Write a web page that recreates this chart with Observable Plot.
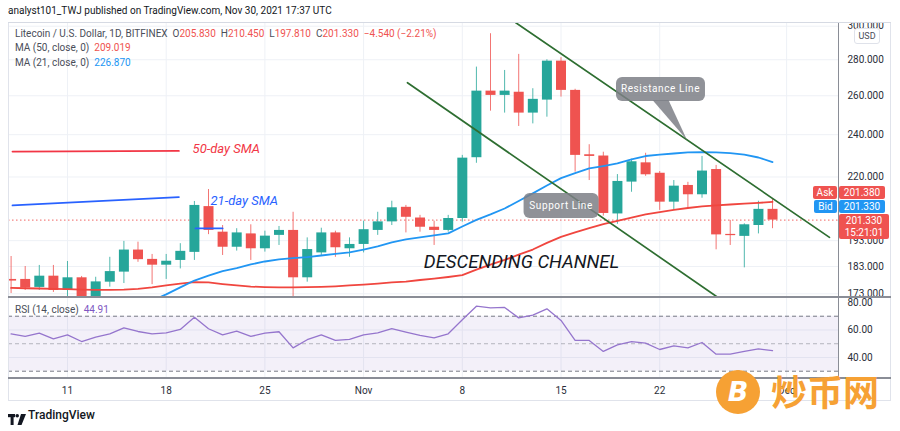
<!DOCTYPE html>
<html><head><meta charset="utf-8">
<script src="https://cdn.jsdelivr.net/npm/d3@7"></script>
<script src="https://cdn.jsdelivr.net/npm/@observablehq/plot@0.6"></script>
<style>
body{margin:0;background:#fff;}
#root{position:relative;width:900px;height:431px;overflow:hidden;font-family:Roboto,"Liberation Sans",sans-serif;color:#131722;background:#fff;}
.abs{position:absolute;white-space:nowrap;}
.lg{font-size:10px;color:#4a4e59;}
.red{color:#ef5350;}
.blue{color:#2196f3;}
.tag{position:absolute;color:#fff;font-size:10px;text-align:center;border-radius:2px;}
</style></head><body><div id="root"></div>
<script>
// ---------- data ----------
const startDate = "2021-10-07";
const opens  = [178.2,178.2,175.3,179.4,174.2,178.8,172.0,177.2,180.9,189.3,185.7,183.5,185.3,188.4,207.0,196.4,190.4,195.7,189.8,195.1,197.1,178.8,188.2,196.1,189.8,191.5,197.1,200.6,206.7,202.2,198.4,197.1,202.0,228.9,262.5,260.2,261.9,250.9,257.7,279.2,262.9,230.3,229.7,203.9,217.7,226.5,221.7,208.9,216.2,212.1,223.4,195.5,194.7,199.1,205.83];
const highs  = [186.8,183.0,183.4,183.4,184.9,179.3,179.0,186.5,192.7,192.4,187.6,187.6,191.8,209.2,214.4,199.1,197.8,199.4,196.8,198.7,204.6,194.1,198.0,196.8,194.1,200.9,204.6,209.3,207.5,203.3,200.9,203.3,230.0,275.8,295.4,273.9,283.1,263.8,280.0,281.2,263.5,235.1,231.5,221.1,228.2,231.0,222.5,218.4,217.6,229.5,225.3,201.2,199.8,209.3,210.45];
const lows   = [173.1,174.2,174.2,173.5,171.8,171.0,171.5,175.4,176.7,184.6,176.3,178.2,182.1,185.3,195.4,187.2,188.9,185.3,188.5,191.1,171.0,177.2,187.2,186.5,186.5,188.2,195.1,199.1,196.1,196.4,191.1,196.4,200.5,226.3,251.9,250.9,244.1,245.4,248.8,259.3,222.2,218.4,203.0,199.6,213.2,220.3,205.4,205.4,206.1,210.6,189.4,191.1,182.5,195.7,197.81];
const closes = [177.6,175.1,179.4,174.2,178.8,172.0,177.3,181.1,189.3,185.6,183.5,185.0,188.8,207.5,197.1,190.4,196.1,189.8,194.8,197.1,178.8,189.5,196.1,190.2,191.5,197.4,200.6,206.5,202.5,198.4,197.1,202.0,228.7,262.5,260.2,262.5,250.9,258.1,279.2,262.9,230.0,229.5,204.1,218.0,227.0,221.0,208.9,215.9,212.1,222.7,195.3,195.0,199.4,205.83,201.33];
const ma50 = [175.1,175.0,174.9,174.8,174.7,174.5,174.4,174.4,174.5,174.8,175.3,176.0,176.7,177.2,177.1,176.5,176.0,175.6,175.4,175.3,175.3,175.4,175.5,175.7,176.0,176.3,176.7,177.1,177.4,178.0,178.5,179.1,179.8,181.8,183.7,185.5,187.5,189.5,192.1,194.5,196.3,198.0,199.7,201.0,202.4,203.7,204.7,205.6,206.4,207.1,207.5,207.9,208.3,208.6,209.02];
const ma21 = [null,null,null,null,null,null,null,null,null,168.5,170.6,172.8,175.3,177.8,179.6,181.3,182.4,183.8,184.9,185.7,186.2,186.6,187.2,187.8,188.4,189.5,190.7,192.3,193.5,194.3,195.1,195.9,198.7,201.4,203.7,206.2,209.4,212.7,216.2,219.5,221.8,223.9,225.0,226.2,228.1,229.7,230.4,230.9,231.4,231.5,231.4,231.1,230.4,229.0,226.87];
const rsi = [57.2,55.3,57.7,53.6,56.5,51.6,54.8,57.2,61.6,58.9,57.2,57.9,60.4,69.3,60.9,56.5,59.1,55.3,57.7,58.7,47.0,52.9,56.5,52.4,53.1,56.5,57.9,60.9,58.4,56.0,54.3,57.2,67.4,77.3,76.1,76.4,68.8,70.8,75.4,66.9,52.4,52.4,44.4,49.2,51.6,50.4,45.8,48.5,47.0,50.9,42.4,42.4,44.4,46.3,44.91];

const tickDates  = ["2021-10-11","2021-10-18","2021-10-25","2021-11-01","2021-11-08","2021-11-15","2021-11-22","2021-12-01"];
const tickLabels = ["11","18","25","Nov","8","15","22","Dec"];
const priceTicks = [173,183,193,220,240,260,280,300];
const rsiTicks = [40,60,80];
const priceDomain = [171.7,302.3];
const rsiDomain = [24.7,82.9];
const dayDomain = [-0.184,58.75];

// drawings (day offset from startDate, price)
const resistanceLine = [{d:35.77,p:302.3},{d:58.04,p:194.3}];
const supportLine    = [{d:28.11,p:267.1},{d:50.13,p:171.7}];
const sma50Note = [{d:0.1,p:231.8},{d:11.9,p:232.1}];
const sma21Note = [{d:0.1,p:207.5},{d:11.9,p:211.1}];
const sma21Mark = [{d:13.08,p:197.9},{d:15.0,p:197.9}];
const notes = [
  {d:12.87,p:233.3,text:"50-day SMA",color:"#f23645",size:13,anchor:"start"},
  {d:14.14,p:209.6,text:"21-day SMA",color:"#2962ff",size:13,anchor:"start"},
  {d:36.2,p:184.5,text:"DESCENDING CHANNEL",color:"#131722",size:18.5,anchor:"middle"}
];
const callouts = [
  {text:"Resistance Line", d:46.09, p:263.4, w:89, h:24, tipD:47.97, tipP:237.2},
  {text:"Support Line", d:39.04, p:207.3, w:75, h:25}
];
const lastPrice = 201.33, askPrice = 201.38;

// ---------- build ----------
const base = Date.parse(startDate);
const day = i => new Date(base + i*864e5);
const candles = opens.map((o,i)=>({date:day(i),open:o,high:highs[i],low:lows[i],close:closes[i]}));
const ups = candles.filter(c=>c.close>=c.open), downs = candles.filter(c=>c.close<c.open);
const GREEN="#26a69a", RED="#ef5350", GRID="#eef1f6";
const ticks = tickDates.map(s=>new Date(s+"T00:00:00Z"));
const labelOf = d => tickLabels[ticks.findIndex(t=>+t===+d)];
const xDom = dayDomain.map(day);
const pt = a => a.map(o=>({date:day(o.d),p:o.p}));

const root = document.getElementById("root");
const style = {background:"transparent",fontSize:"10px",fontFamily:"Roboto, sans-serif",color:"#2a2e39"};

const pricePlot = Plot.plot({
  width:900,height:276,marginTop:0,marginBottom:1,marginLeft:8,marginRight:61,style,
  x:{type:"utc",domain:xDom,axis:null},
  y:{type:"log",domain:priceDomain,axis:"right",ticks:priceTicks,tickFormat:d3.format(".3f"),tickSize:0,tickPadding:8,label:null},
  marks:[
    Plot.ruleX(ticks,{stroke:GRID}),
    Plot.ruleY(priceTicks,{stroke:GRID}),
    Plot.ruleY([lastPrice],{stroke:RED,strokeDasharray:"1.5,2.5",strokeOpacity:0.9}),
    Plot.ruleX(ups,{x:"date",y1:"low",y2:"high",stroke:GREEN,strokeOpacity:0.8,clip:true}),
    Plot.ruleX(downs,{x:"date",y1:"low",y2:"high",stroke:RED,strokeOpacity:0.8,clip:true}),
    Plot.ruleX(ups,{x:"date",y1:"open",y2:"close",stroke:GREEN,strokeWidth:10,clip:true}),
    Plot.ruleX(downs,{x:"date",y1:"open",y2:"close",stroke:RED,strokeWidth:10,clip:true}),
    Plot.line(ma50.map((v,i)=>({date:day(i),v})),{x:"date",y:"v",stroke:"#f0463f",strokeWidth:1.8,clip:true}),
    Plot.line(ma21.map((v,i)=>({date:day(i),v})),{x:"date",y:"v",stroke:"#2196f3",strokeWidth:1.8,clip:true,defined:d=>d.v!=null}),
    Plot.line(pt(resistanceLine),{x:"date",y:"p",stroke:"#2e6e31",strokeWidth:1.7,clip:true}),
    Plot.line(pt(supportLine),{x:"date",y:"p",stroke:"#2e6e31",strokeWidth:1.7,clip:true}),
    Plot.line(pt(sma50Note),{x:"date",y:"p",stroke:"#f23645",strokeWidth:1.8}),
    Plot.line(pt(sma21Note),{x:"date",y:"p",stroke:"#2962ff",strokeWidth:1.8}),
    Plot.line(pt(sma21Mark),{x:"date",y:"p",stroke:"#2962ff",strokeWidth:1.8}),
    ...notes.map(n=>Plot.text([n],{x:d=>day(d.d),y:"p",text:"text",fill:n.color,fontSize:n.size,fontStyle:"italic",textAnchor:n.anchor}))
  ]
});
pricePlot.style.position="absolute";pricePlot.style.left="0px";pricePlot.style.top="22px";
root.appendChild(pricePlot);

const rsiPlot = Plot.plot({
  width:900,height:104,marginTop:0,marginBottom:24,marginLeft:8,marginRight:61,style,
  x:{type:"utc",domain:xDom,ticks:ticks,tickFormat:labelOf,tickSize:0,tickPadding:8,label:null},
  y:{domain:rsiDomain,axis:"right",ticks:rsiTicks,tickFormat:d3.format(".2f"),tickSize:0,tickPadding:8,label:null},
  marks:[
    Plot.ruleX(ticks,{stroke:GRID}),
    Plot.ruleY([40,60],{stroke:GRID}),
    Plot.areaY(xDom,{x:d=>d,y1:30,y2:70,fill:"#7e57c2",fillOpacity:0.09}),
    Plot.ruleY([70,30],{stroke:"#787b86",strokeDasharray:"4,3"}),
    Plot.ruleY([50],{stroke:"#787b86",strokeOpacity:0.5,strokeDasharray:"4,3"}),
    Plot.line(rsi.map((v,i)=>({date:day(i),v})),{x:"date",y:"v",stroke:"#9575cd",strokeWidth:1.3})
  ]
});
rsiPlot.style.position="absolute";rsiPlot.style.left="0px";rsiPlot.style.top="298px";
root.appendChild(rsiPlot);

// ---------- decorations ----------
function div(html, css, cls){const e=document.createElement("div");e.className=cls||"abs";e.innerHTML=html;Object.assign(e.style,css);root.appendChild(e);return e;}
// frame
div("",{left:"8px",top:"22px",width:"883px",height:"379px",border:"1px solid #e0e3eb",boxSizing:"border-box"});
div("",{left:"8px",top:"296px",width:"883px",height:"2px",background:"#8a8d96"});
div("",{left:"8px",top:"377px",width:"883px",height:"2px",background:"#8a8d96"});
div("",{left:"838px",top:"22px",width:"1px",height:"356px",background:"#8a8d96"});
div("",{left:"8px",top:"22px",width:"883px",height:"1px",background:"#d6dae3"});
// header
div("analyst101_TWJ published on TradingView.com, Nov 30, 2021 17:37 UTC",{left:"8px",top:"5px",fontSize:"10px",color:"#131722"});
div('Litecoin / U.S. Dollar, 1D, BITFINEX&nbsp; O<span class="red">205.830</span>&nbsp; H<span class="red">210.450</span>&nbsp; L<span class="red">197.810</span>&nbsp; C<span class="red">201.330</span>&nbsp; <span class="red">−4.540 (−2.21%)</span>',{left:"15px",top:"28px"},"abs lg");
div('MA (50, close, 0)&nbsp; <span class="red">209.019</span>',{left:"15px",top:"42px"},"abs lg");
div('MA (21, close, 0)&nbsp; <span class="blue">226.870</span>',{left:"15px",top:"57px"},"abs lg");
div('RSI (14, close)&nbsp; <span style="color:#7e57c2">44.91</span>',{left:"15px",top:"304px"},"abs lg");
// USD box
div("USD",{left:"854px",top:"28px",width:"24px",height:"14px",lineHeight:"14px",fontSize:"9px",textAlign:"center",background:"#fff",border:"1px solid #dfe2ea",borderRadius:"3px",color:"#4a4e59"});
// price tags on axis
const sy = pricePlot.scale("y"), sx = pricePlot.scale("x");
const yLast = 22 + sy.apply(lastPrice);
div("Ask",{left:"813px",top:(yLast-33.5)+"px",width:"24px",height:"13px",lineHeight:"13px",background:RED},"tag");
div(askPrice.toFixed(3),{left:"839px",top:(yLast-33.5)+"px",width:"46px",height:"13px",lineHeight:"13px",background:RED},"tag");
div("Bid",{left:"814px",top:(yLast-19.5)+"px",width:"23px",height:"13px",lineHeight:"13px",background:"#2196f3"},"tag");
div(lastPrice.toFixed(3),{left:"839px",top:(yLast-19.5)+"px",width:"46px",height:"13px",lineHeight:"13px",background:"#2196f3"},"tag");
div(lastPrice.toFixed(3)+"<br>15:21:01",{left:"839px",top:(yLast-5.5)+"px",width:"50px",height:"25px",lineHeight:"11.5px",paddingTop:"1px",boxSizing:"border-box",background:RED},"tag");
// callouts
const svgNS="http://www.w3.org/2000/svg";
const ov=document.createElementNS(svgNS,"svg");
ov.setAttribute("width",900);ov.setAttribute("height",431);
ov.style.position="absolute";ov.style.left="0";ov.style.top="0";ov.style.pointerEvents="none";
callouts.forEach(c=>{
  const cx=sx.apply(day(c.d)), cy=22+sy.apply(c.p);
  const g=document.createElementNS(svgNS,"g");
  let s="";
  if(c.tipD!=null){
    const tx=sx.apply(day(c.tipD)), ty=22+sy.apply(c.tipP);
    s+=`<polygon points="${cx-8},${cy+c.h/2-1} ${cx+8},${cy+c.h/2-1} ${tx},${ty}" fill="#7d7f86" fill-opacity="0.85"/>`;
  }
  s+=`<rect x="${cx-c.w/2}" y="${cy-c.h/2}" width="${c.w}" height="${c.h}" rx="6" fill="#7d7f86" fill-opacity="0.85"/>`;
  s+=`<text x="${cx}" y="${cy}" dy="0.35em" text-anchor="middle" fill="#fff" font-size="10" letter-spacing="0.6" font-family="Roboto, sans-serif">${c.text}</text>`;
  g.innerHTML=s;ov.appendChild(g);
});
root.appendChild(ov);
// TradingView footer logo
div('<svg width="18" height="11" viewBox="0 0 18 11"><rect x="0" y="0" width="7" height="3.2" fill="#131722"/><rect x="2.6" y="0" width="3" height="11" fill="#131722"/><circle cx="9.2" cy="1.8" r="1.8" fill="#131722"/><polygon points="13,0 18,0 13.5,11 9.5,11" fill="#131722"/></svg>',{left:"8px",top:"410px"});
div("TradingView",{left:"28px",top:"408px",fontSize:"12px",fontWeight:"500",color:"#131722"});
// watermark
div('<span style="font-style:italic;font-weight:900;font-size:27px;color:#fff;font-family:\'DejaVu Sans\',sans-serif;">B</span>',{left:"716px",top:"370px",width:"44px",height:"44px",lineHeight:"44px",textAlign:"center",borderRadius:"50%",background:"#f6a134"});
div("炒币网",{left:"771px",top:"366px",fontSize:"36px",fontWeight:"700",fontFamily:"'Noto Sans CJK SC',sans-serif",color:"#f6a134",lineHeight:"48px"});
</script></body></html>
